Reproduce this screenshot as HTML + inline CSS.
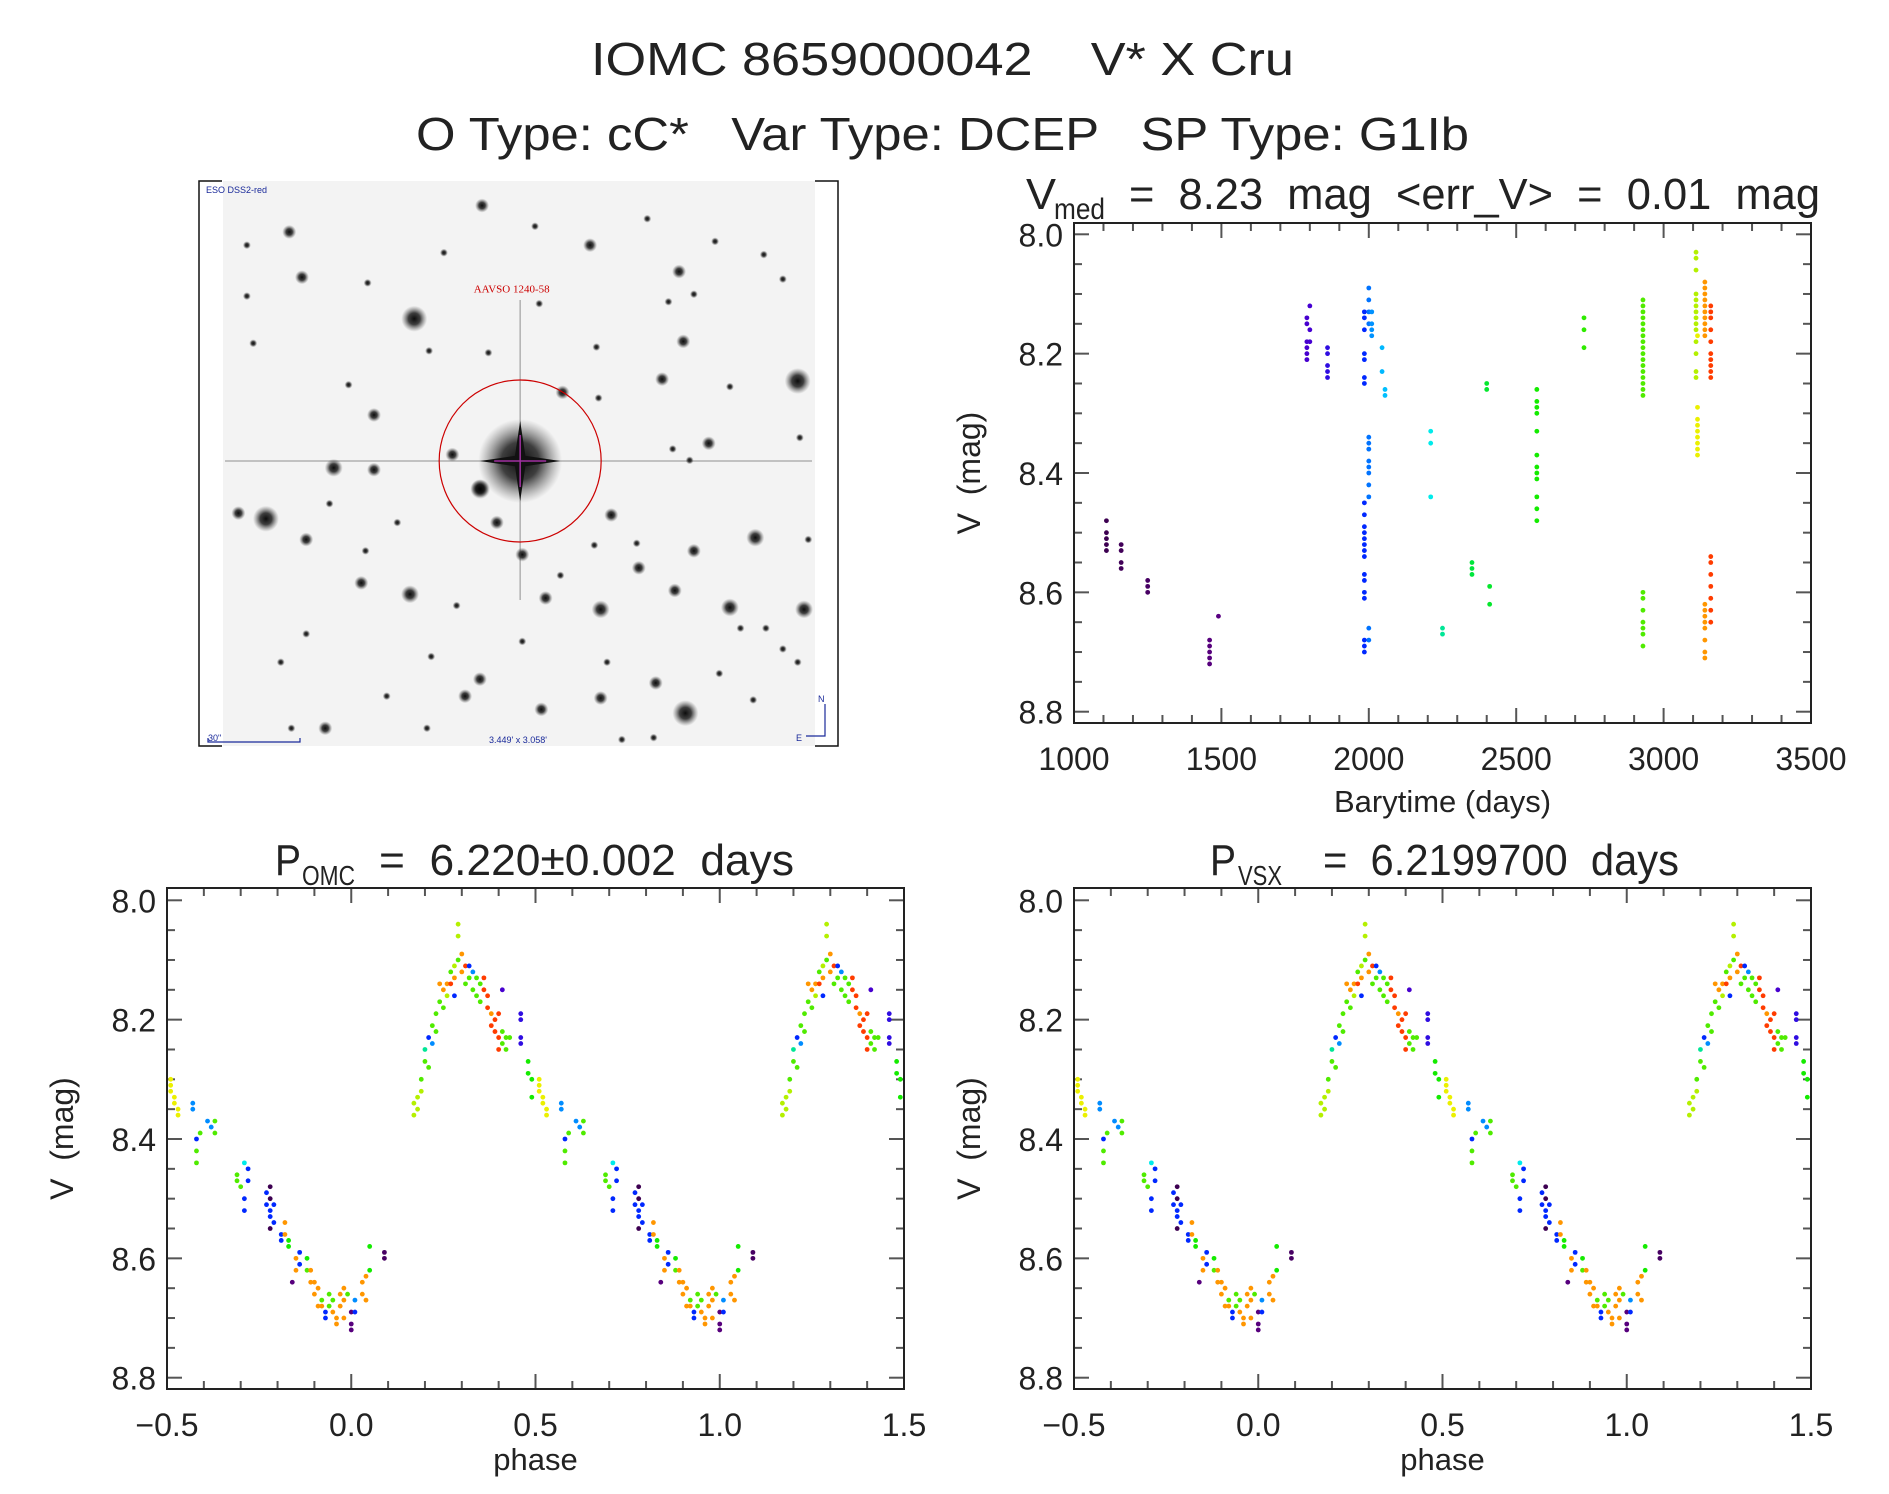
<!DOCTYPE html>
<html><head><meta charset="utf-8"><style>
html,body{margin:0;padding:0;background:#fff;}
svg{display:block;font-family:"Liberation Sans",sans-serif;}
svg text{white-space:pre;}
</style></head><body>
<svg id="fig" width="1889" height="1494" viewBox="0 0 1889 1494" xmlns="http://www.w3.org/2000/svg" xml:space="preserve">
<defs>
<radialGradient id="star"><stop offset="0" stop-color="#000" stop-opacity="0.95"/><stop offset="0.45" stop-color="#111" stop-opacity="0.8"/><stop offset="1" stop-color="#555" stop-opacity="0"/></radialGradient>
</defs>
<rect width="1889" height="1494" fill="#fff"/>
<text x="591" y="75" font-size="46" textLength="703" lengthAdjust="spacingAndGlyphs" fill="#222">IOMC 8659000042    V* X Cru</text>
<text x="416" y="150" font-size="46" textLength="1053" lengthAdjust="spacingAndGlyphs" fill="#222">O Type: cC*   Var Type: DCEP   SP Type: G1Ib</text>
<g id="imgpanel"></g>
<g id="lc"></g>
<g id="ph1"></g>
<g id="ph2"></g>
</svg>
<script>
// ---------- light curve data ----------
const lcTime = [1110,1110,1110,1110,1110, 1160,1160,1160,1160, 1250,1250,1250, 1460,1460,1460,1460,1460, 1490,
 1790,1790,1790,1790,1790,1790, 1800,1800,1800, 1860,1860,1860,1860,1860,
 1985,1985,1985,1985,1985,1985,1985,1985,1985,1985,1985,1985,1985,1985,1985,1985,1985,1985,1985,1985,1985,1985,
 2000,2000,2000,2000,2000,2000,2000,2000,2000,2000,2000,2000,2000,2000, 2010,2010,2010,2010, 2045,2045, 2055,2055,
 2210,2210,2210, 2250,2250, 2350,2350,2350, 2400,2400, 2410,2410,
 2570,2570,2570,2570,2570,2570,2570,2570,2570,2570,2570,2570, 2730,2730,2730,
 2930,2930,2930,2930,2930,2930,2930,2930,2930,2930,2930,2930,2930,2930,2930,2930,2930,2930,2930,2930,2930,2930,2930,2930,
 3110,3110,3110,3110,3110,3110,3110,3110,3110,3110,3110,3110,3110,3110,
 3115,3115,3115,3115,3115,3115,3115,3115,3115,
 3140,3140,3140,3140,3140,3140,3140,3140,3140,3140,3140,3140,3140,3140,3140,3140,3140,3140,
 3160,3160,3160,3160,3160,3160,3160,3160,3160,3160,3160,3160,3160,3160,3160,3160,3160];
const lcMag = [8.48,8.50,8.51,8.52,8.53, 8.52,8.53,8.55,8.56, 8.58,8.59,8.60, 8.68,8.69,8.70,8.71,8.72, 8.64,
 8.14,8.15,8.18,8.19,8.20,8.21, 8.12,8.16,8.18, 8.19,8.20,8.22,8.23,8.24,
 8.13,8.14,8.16,8.20,8.21,8.24,8.25,8.45,8.47,8.49,8.50,8.51,8.52,8.53,8.54,8.57,8.58,8.60,8.61,8.68,8.69,8.70,
 8.09,8.11,8.13,8.15,8.34,8.35,8.36,8.38,8.39,8.40,8.42,8.44,8.66,8.68, 8.13,8.15,8.16,8.17, 8.19,8.23, 8.26,8.27,
 8.33,8.35,8.44, 8.66,8.67, 8.55,8.56,8.57, 8.25,8.26, 8.59,8.62,
 8.26,8.28,8.29,8.30,8.33,8.37,8.39,8.40,8.41,8.44,8.46,8.48, 8.14,8.16,8.19,
 8.11,8.12,8.13,8.14,8.15,8.16,8.17,8.18,8.19,8.20,8.21,8.22,8.23,8.24,8.25,8.26,8.27,8.60,8.61,8.63,8.65,8.66,8.67,8.69,
 8.03,8.04,8.06,8.10,8.11,8.12,8.13,8.14,8.15,8.16,8.18,8.20,8.23,8.24,
 8.29,8.31,8.32,8.33,8.34,8.35,8.36,8.37,8.17,
 8.08,8.09,8.10,8.11,8.12,8.13,8.14,8.15,8.16,8.17,8.62,8.63,8.64,8.65,8.66,8.68,8.70,8.71,
 8.12,8.13,8.14,8.16,8.18,8.20,8.21,8.22,8.23,8.24,8.54,8.55,8.57,8.59,8.61,8.63,8.65];
const lcXTicks = [1000,1500,2000,2500,3000,3500];
const lcXLabels = ["1000","1500","2000","2500","3000","3500"];
const magTicks = [8.0,8.2,8.4,8.6,8.8];
const magLabels = ["8.0","8.2","8.4","8.6","8.8"];
// ---------- phased data (base phase in [-0.5,0.5)) ----------
const phPhase = [-0.49,-0.49,-0.49,-0.48,-0.48,-0.47,-0.47,
 -0.43,-0.43,-0.42,-0.42,-0.42,-0.41, -0.39,-0.38,-0.37,-0.37,
 -0.31,-0.31,-0.30,-0.29,-0.28,-0.28,-0.29,-0.29,
 -0.23,-0.23,-0.22,-0.22,-0.21,-0.22,-0.22,-0.22,-0.21,
 -0.19,-0.19,-0.18,-0.18,-0.17,-0.17,
 -0.15,-0.15,-0.14,-0.14,-0.16,-0.12,-0.12,-0.11,-0.11,
 -0.10,-0.10,-0.09,-0.09,-0.08,-0.08,-0.07,-0.07,
 -0.06,-0.06,-0.05,-0.05,-0.04,-0.04,-0.03,-0.03,-0.02,-0.02,-0.02,-0.01,
 0.00,0.00,0.00,0.01,0.01, 0.03,0.03,0.04,0.04,0.05,0.05,0.09,0.09,
 0.17,0.17,0.18,0.18,0.19, 0.19,0.20,0.20,0.21,0.21,0.22,0.22,0.23,0.23,
 0.24,0.24,0.25,0.25,0.26,0.26,0.27,0.27,0.28,0.28,0.28,
 0.29,0.29,0.29,0.30,0.30,0.31,0.31,0.32,0.32,0.33,0.33,0.34,0.34,0.35,0.35,
 0.36,0.36,0.37,0.37,0.38,0.38,0.39,0.39,0.40,0.40,0.40,
 0.41,0.41,0.42,0.42,0.43,0.41, 0.46,0.46,0.46,0.46, 0.48,0.48,0.49,0.49];
const phMag = [8.30,8.31,8.32,8.33,8.34,8.35,8.36,
 8.34,8.35,8.40,8.42,8.44,8.39, 8.37,8.38,8.37,8.39,
 8.46,8.47,8.48,8.44,8.45,8.47,8.50,8.52,
 8.49,8.51,8.52,8.53,8.54,8.48,8.50,8.55,8.51,
 8.56,8.57,8.54,8.56,8.57,8.58,
 8.60,8.62,8.59,8.61,8.64,8.60,8.62,8.62,8.64,
 8.64,8.66,8.65,8.68,8.68,8.67,8.69,8.70,
 8.66,8.68,8.67,8.69,8.70,8.71,8.68,8.66,8.65,8.67,8.70,8.66,
 8.69,8.71,8.72,8.67,8.69, 8.64,8.66,8.63,8.67,8.62,8.58,8.59,8.60,
 8.34,8.36,8.33,8.35,8.32, 8.30,8.27,8.25,8.28,8.23,8.21,8.24,8.22,8.19,
 8.17,8.14,8.15,8.18,8.16,8.14,8.12,8.14,8.11,8.16,8.13,
 8.04,8.06,8.10,8.12,8.09,8.11,8.14,8.11,8.13,8.12,8.15,8.13,8.16,8.14,8.17,
 8.13,8.15,8.16,8.18,8.19,8.21,8.20,8.22,8.23,8.25,8.19,
 8.22,8.24,8.23,8.25,8.23,8.15, 8.19,8.20,8.23,8.24, 8.27,8.29,8.30,8.33];
const phEpoch = [3115,3115,3115,3115,3115,3115,3115,
 2005,2005,1985,2930,2930,2930, 2005,2005,2930,2930,
 2930,2930,2930,2210,1985,1985,1985,1985,
 1985,1985,1985,1985,1985,1110,1110,1110,1985,
 1985,1985,3140,3140,2570,2570,
 3140,3140,1985,1985,1460,2570,2930,3140,3140,
 3140,3140,3140,3140,3140,2930,1985,1985,
 2930,2930,2930,3140,3140,3140,3140,3140,3140,3140,3140,2930,
 1460,1460,1460,2005,1985, 3140,3140,3140,3140,2570,2570,1250,1250,
 3110,3110,3110,3110,3110, 2930,2930,2250,2930,1985,2930,2005,2930,2930,
 2930,3140,3140,2930,3110,3140,2930,3160,3110,1985,3140,
 3110,3110,2930,3140,3140,3160,2930,1985,2930,2005,2930,2930,2930,2930,2930,
 3160,3160,3160,3160,3140,3160,3160,3160,3160,3160,3160,
 2930,2930,2930,2930,2930,1790, 1860,1860,1860,1860, 2570,2570,2570,2570];
const phXTicks = [-0.5,0.0,0.5,1.0,1.5];
const phXLabels = ["\u22120.5","0.0","0.5","1.0","1.5"];

const NS="http://www.w3.org/2000/svg";
function el(tag, attrs, parent){const e=document.createElementNS(NS,tag);for(const k in attrs)e.setAttribute(k,attrs[k]);if(parent)parent.appendChild(e);return e;}

function epochColor(t){
  const stops=[[1100,[60,0,80]],[1500,[90,0,130]],[1800,[70,0,210]],[1985,[0,40,255]],[2005,[0,140,255]],[2050,[0,190,255]],[2210,[0,235,235]],[2250,[0,230,150]],[2350,[0,230,60]],[2570,[20,235,0]],[2930,[80,235,0]],[3110,[180,240,0]],[3115,[235,240,0]],[3130,[255,200,0]],[3140,[255,150,0]],[3160,[255,60,0]]];
  if(t<=stops[0][0])return 'rgb('+stops[0][1]+')';
  for(let i=1;i<stops.length;i++){if(t<=stops[i][0]){const a=stops[i-1],b=stops[i];const f=(t-a[0])/(b[0]-a[0]);return 'rgb('+a[1].map((v,j)=>Math.round(v+(b[1][j]-v)*f)).join(',')+')';}}
  return 'rgb('+stops[stops.length-1][1]+')';
}

function axes(g, box, xr, yr, xMaj, xMin, yMaj, yMin, xTicks, xLabels, xTitle, labY, titleY){
  const sx=v=>box.x0+(v-xr[0])/(xr[1]-xr[0])*(box.x1-box.x0);
  const sy=v=>box.ty0+(v-yr[0])/(yr[1]-yr[0])*(box.ty1-box.ty0);
  for(let v=xr[0]; v<=xr[1]+1e-9; v+=xMin){
    const isMaj=Math.abs(Math.round((v-xr[0])/xMaj)*xMaj-(v-xr[0]))<1e-6;
    const L=isMaj?15:8;
    const x=sx(v);
    const t1=el('line',{x1:x,x2:x,y1:box.y1,y2:box.y1-L,stroke:'#555','stroke-width':2},g);
    
    
    const t2=el('line',{x1:x,x2:x,y1:box.y0,y2:box.y0+L,stroke:'#555','stroke-width':2},g);
    
    
  }
  for(let v=yr[0]; v<=yr[1]+1e-9; v+=yMin){
    const isMaj=Math.abs(Math.round((v-yr[0])/yMaj)*yMaj-(v-yr[0]))<1e-6;
    const L=isMaj?15:8;
    const y=sy(v);
    const t1=el('line',{x1:box.x0,x2:box.x0+L,y1:y,y2:y,stroke:'#555','stroke-width':2},g);
    
    
    const t2=el('line',{x1:box.x1,x2:box.x1-L,y1:y,y2:y,stroke:'#555','stroke-width':2},g);
    
    
  }
  const fr=el('rect',{x:box.x0,y:box.y0,width:box.x1-box.x0,height:box.y1-box.y0,fill:'none',stroke:'#222','stroke-width':2},g);
  
  
  xTicks.forEach((v,i)=>{
    const t=el('text',{x:sx(v),y:labY,'font-size':32,'text-anchor':'middle',fill:'#222'},g);
    t.textContent=xLabels[i];
    
    
  });
  magTicks.forEach((v,i)=>{
    const t=el('text',{x:box.x0-11,y:sy(v)+12,'font-size':32,'text-anchor':'end',fill:'#222'},g);
    t.textContent=magLabels[i];
    
    
  });
  const xt=el('text',{x:(box.x0+box.x1)/2,y:titleY,'font-size':31,'text-anchor':'middle',fill:'#222'},g);
  xt.textContent=xTitle;
  
  
  const cy=(box.y0+box.y1)/2, cx=box.x0-94;
  const yt=el('text',{x:cx,y:cy,'font-size':32,'text-anchor':'middle',fill:'#222',transform:'rotate(-90 '+cx+' '+cy+')'},g);
  yt.textContent='V  (mag)';
  
  
  return {sx,sy};
}

function title(g, parts){
  parts.forEach(p=>{
    const t=el('text',{x:p[1],y:p[3],'font-size':p[4],textLength:p[2]-p[1],lengthAdjust:'spacingAndGlyphs',fill:'#222'},g);
    t.textContent=p[0];
    
    
  });
}

(function(){
  const g=document.getElementById('lc');
  const box={x0:1074,x1:1811,y0:223,y1:723,ty0:234.3,ty1:711.7};
  const a=axes(g,box,[1000,3500],[8.0,8.8],500,100,0.2,0.05,lcXTicks,lcXLabels,'Barytime (days)',770,812);
  lcTime.forEach((t,i)=>{
    const c=el('circle',{cx:a.sx(t),cy:a.sy(lcMag[i]),r:2.4,fill:epochColor(t)},g);
    
    
  });
  title(g,[['V',1026,1056,209,44],['med',1054,1105,219,30],['=  8.23  mag  <err_V>  =  0.01  mag',1129,1820,209,44]]);
})();

function phasePlot(id, x0, parts){
  const g=document.getElementById(id);
  const box={x0:x0,x1:x0+737,y0:888,y1:1389,ty0:900.3,ty1:1377.7};
  const a=axes(g,box,[-0.5,1.5],[8.0,8.8],0.5,0.1,0.2,0.05,phXTicks,phXLabels,'phase',1436,1470);
  phPhase.forEach((p,i)=>{
    [p,p+1].forEach(q=>{
      if(q<-0.5||q>1.5)return;
      const c=el('circle',{cx:a.sx(q),cy:a.sy(phMag[i]),r:2.4,fill:epochColor(phEpoch[i])},g);
      
      
    });
  });
  title(g,parts);
}
phasePlot('ph1',167,[['P',275,301,875,44],['OMC',302,355,885,28],['=  6.220\u00b10.002  days',379,794,875,44]]);
phasePlot('ph2',1074,[['P',1210,1236,875,44],['VSX',1238,1282,885,28],['=  6.2199700  days',1323,1679,875,44]]);

(function(){
  const g=document.getElementById('imgpanel');
  const X=ox=>199+(ox-22)*0.4237, Y=oy=>181+(oy-30)*0.3774;
  const bg=el('rect',{x:223,y:181,width:592,height:565,fill:'#f3f3f3'},g);
  
  
  const stars=[[690,95,3],[235,165,3],[265,285,3],[530,395,5],[1155,270,3],[1165,455,3],[1435,560,5],[1115,555,3],[880,590,3],[435,650,3],[620,755,3],[340,790,4],[435,795,3],[685,845,4],[180,925,5],[115,910,3],[725,935,3],[275,980,3],[995,915,3],[1335,975,4],[785,1020,3],[1190,1010,3],[1060,1055,3],[405,1095,3],[520,1125,4],[840,1135,3],[970,1165,4],[1275,1160,4],[1450,1165,4],[1145,1115,3],[1100,1360,3],[970,1400,3],[650,1395,3],[830,1430,3],[1170,1440,5],[685,1350,3],[1225,725,3],[945,200,3],[1080,130,2],[815,150,2],[1355,225,2],[1130,350,2],[825,355,2],[960,470,2],[565,480,2],[705,485,2],[375,570,2],[1440,710,2],[1140,740,2],[490,935,2],[1435,1305,2],[275,1230,2],[985,1305,2],[320,1480,3],[240,1480,2],[1020,1510,2],[1095,1505,2],[135,335,2],[150,460,2],[420,300,2],[1275,575,2],[1400,290,2],[1190,330,2],[965,605,2],[330,885,2],[1055,990,2],[955,995,2],[570,1290,2],[215,1305,2],[1400,1270,2],[1460,980,2],[1300,1215,2],[1360,1215,2],[785,1250,2],[630,1155,2],[875,1075,2],[1180,770,2],[415,1010,2],[1240,190,2],[600,220,2],[135,200,2],[1330,1405,2],[465,1395,2],[560,1480,2],[1250,1335,2]];
  const rs={2:4,3:7,4:9,5:13};
  stars.forEach(s=>{
    const c=el('circle',{cx:X(s[0]),cy:Y(s[1]),r:rs[s[2]],fill:'url(#star)'},g);
    
    
  });
  const cx=X(780), cy=Y(772);
  el('line',{x1:225,x2:812,y1:cy,y2:cy,stroke:'#333','stroke-width':1.5,'stroke-opacity':0.35},g);
  el('line',{x1:cx,x2:cx,y1:300,y2:600,stroke:'#333','stroke-width':1.5,'stroke-opacity':0.35},g);
  el('circle',{cx:cx,cy:cy,r:42,fill:'url(#star)'},g);
  el('path',{d:`M${cx-40} ${cy} L${cx} ${cy-6} L${cx+40} ${cy} L${cx} ${cy+6}Z M${cx} ${cy-40} L${cx+6} ${cy} L${cx} ${cy+40} L${cx-6} ${cy}Z`,fill:'#111'},g);
  el('circle',{cx:cx-40,cy:cy+28,r:10,fill:'url(#star)'},g);
  const circ=el('circle',{cx:cx,cy:cy,r:81,fill:'none',stroke:'#c00','stroke-width':1.2},g);
  
  
  el('line',{x1:cx-26,x2:cx+26,y1:cy,y2:cy,stroke:'#a030a0','stroke-width':1.5},g);
  el('line',{x1:cx,x2:cx,y1:cy-26,y2:cy+26,stroke:'#a030a0','stroke-width':1.5},g);
  const lbl=el('text',{x:X(760),y:Y(325),'font-size':11,fill:'#c00','text-anchor':'middle','font-family':'Liberation Serif, serif'},g);
  lbl.textContent='AAVSO 1240-58';
  
  
  const src=el('text',{x:206,y:193,'font-size':9,fill:'#1a2a9a'},g);
  src.textContent='ESO DSS2-red';
  
  
  const sc=el('text',{x:208,y:741,'font-size':9,fill:'#1a2a9a'},g);
  sc.textContent='30"';
  
  
  el('path',{d:'M208 738 L208 742 L300 742 L300 738',fill:'none',stroke:'#1a2a9a','stroke-width':1.2},g);
  const fov=el('text',{x:518,y:743,'font-size':9,fill:'#1a2a9a','text-anchor':'middle'},g);
  fov.textContent="3.449' x 3.058'";
  
  
  el('path',{d:'M825 704 L825 736 L806 736',fill:'none',stroke:'#1a2a9a','stroke-width':1.2},g);
  const n=el('text',{x:818,y:702,'font-size':9,fill:'#1a2a9a'},g); n.textContent='N';
  
  
  const e=el('text',{x:796,y:741,'font-size':9,fill:'#1a2a9a'},g); e.textContent='E';
  
  
  el('path',{d:'M222 181 L199 181 L199 746 L222 746 M815 181 L838 181 L838 746 L815 746',fill:'none',stroke:'#111','stroke-width':1.5},g);
})();
</script>
</body></html>
